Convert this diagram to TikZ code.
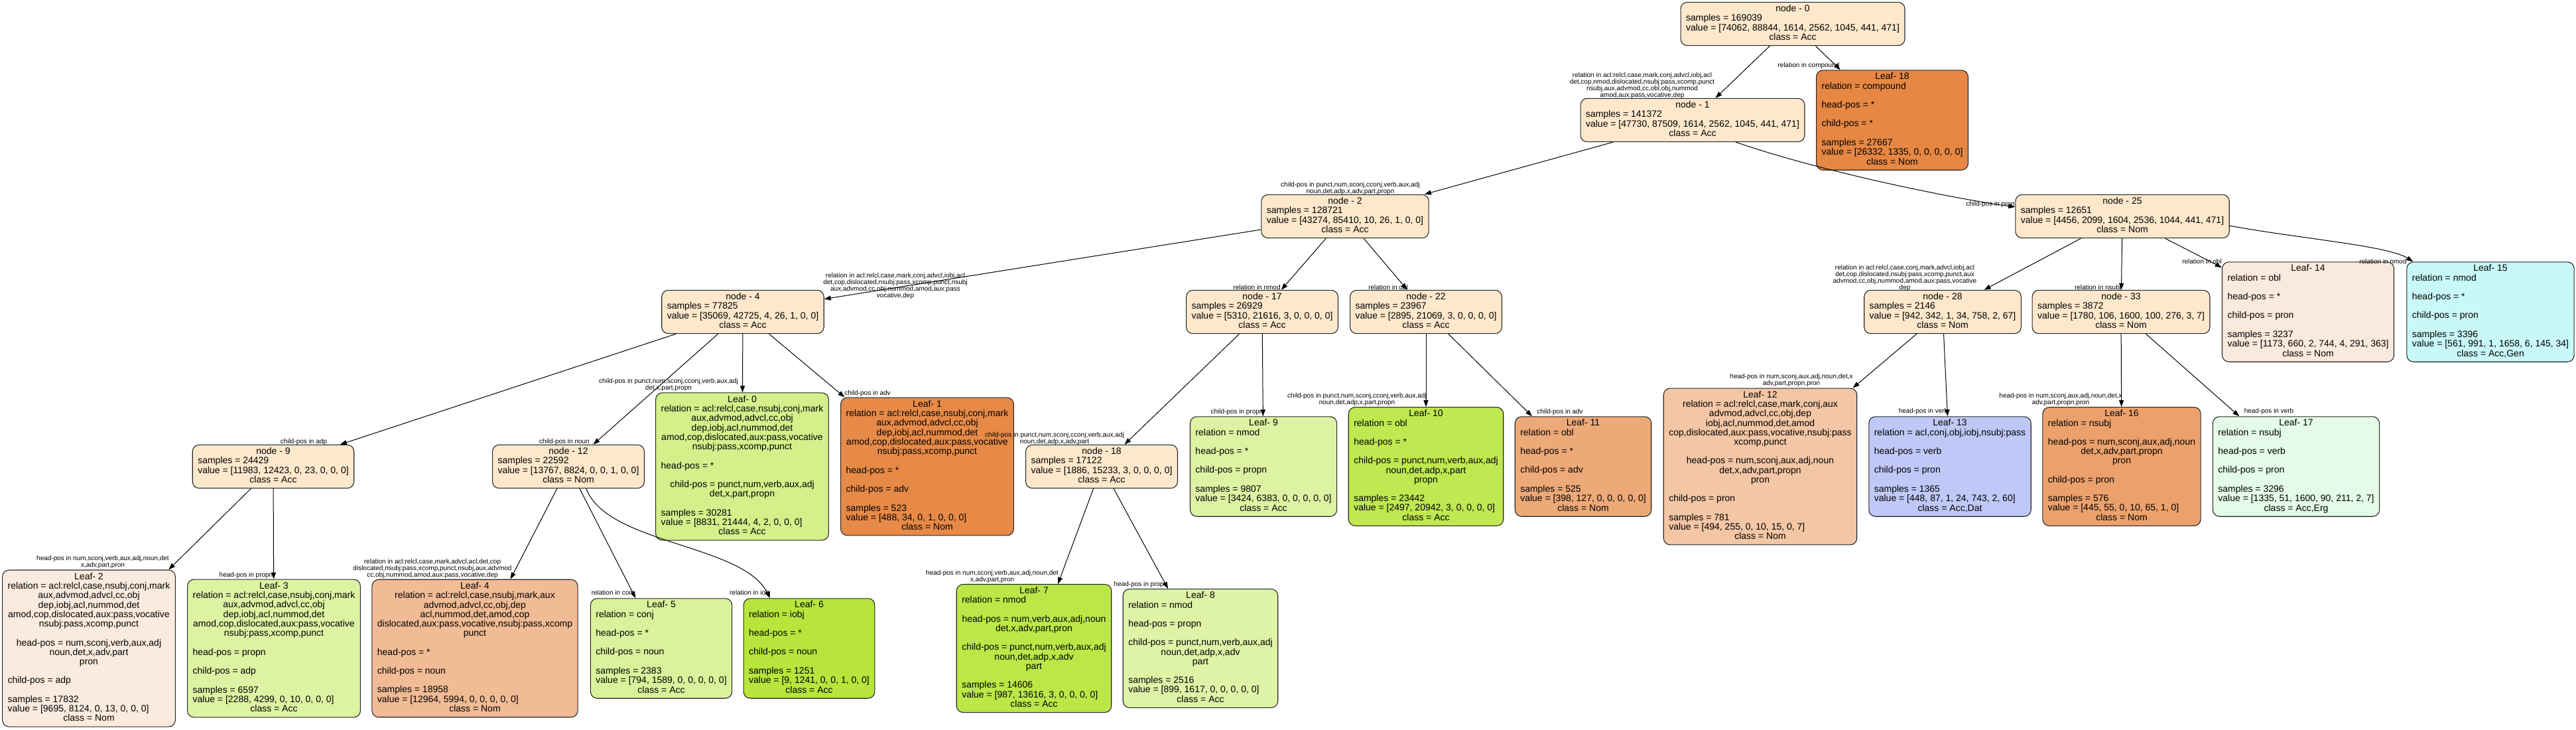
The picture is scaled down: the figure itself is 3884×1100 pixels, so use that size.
\documentclass[tikz,border=0pt]{standalone}
\usepackage{fontspec}
\setmainfont{Liberation Sans}
\usepackage{tikz}
\usetikzlibrary{arrows.meta}
\definecolor{nodefill}{HTML}{FDE8CC}
\definecolor{c0}{RGB}{212,240,139}
\definecolor{c1}{RGB}{231,138,71}
\definecolor{c2}{RGB}{251,235,223}
\definecolor{c3}{RGB}{221,243,163}
\definecolor{c4}{RGB}{241,187,149}
\definecolor{c5}{RGB}{218,242,156}
\definecolor{c6}{RGB}{183,229,59}
\definecolor{c7}{RGB}{187,231,71}
\definecolor{c8}{RGB}{223,243,167}
\definecolor{c9}{RGB}{221,243,163}
\definecolor{c10}{RGB}{191,232,81}
\definecolor{c11}{RGB}{237,169,120}
\definecolor{c12}{RGB}{243,198,165}
\definecolor{c13}{RGB}{191,200,247}
\definecolor{c14}{RGB}{250,233,221}
\definecolor{c15}{RGB}{200,248,247}
\definecolor{c16}{RGB}{236,161,108}
\definecolor{c17}{RGB}{228,251,231}
\definecolor{c18}{RGB}{230,135,67}
% box text: centred lines, \lft{} for a left-justified one
\newcommand\tb[1]{\begin{tabular}{@{}c@{}}#1\end{tabular}}
\newcommand\lft[1]{\multicolumn{1}{@{}l@{}}{#1}}
\newcommand\relfive{relation = acl:relcl,case,nsubj,conj,mark\\aux,advmod,advcl,cc,obj\\dep,iobj,acl,nummod,det\\amod,cop,dislocated,aux:pass,vocative\\nsubj:pass,xcomp,punct}

\begin{document}
\begin{tikzpicture}[x=1pt,y=-1pt,
  dn/.style={draw=black!85,line width=1.1pt,rounded corners=10pt,fill=nodefill,
    inner xsep=8pt,inner ysep=4pt,font=\fontsize{14}{14}\selectfont},
  lf/.style={dn,fill=#1},
  el/.style={align=center,inner sep=0pt,font=\fontsize{10}{10}\selectfont},
  e/.style={draw=black,line width=1pt,-{Triangle[length=10pt,width=7pt]}}
]
\useasboundingbox (0,0) rectangle (3884,1100);

% split nodes
\node[dn] (n0) at (2703,36) {\tb{node - 0\\\lft{samples = 169039}\\\lft{value = [74062, 88844, 1614, 2562, 1045, 441, 471]}\\class = Acc}};
\node[dn] (n1) at (2552,181) {\tb{node - 1\\\lft{samples = 141372}\\\lft{value = [47730, 87509, 1614, 2562, 1045, 441, 471]}\\class = Acc}};
\node[dn] (n2) at (2028,326) {\tb{node - 2\\\lft{samples = 128721}\\\lft{value = [43274, 85410, 10, 26, 1, 0, 0]}\\class = Acc}};
\node[dn] (n25) at (3200,326) {\tb{node - 25\\\lft{samples = 12651}\\\lft{value = [4456, 2099, 1604, 2536, 1044, 441, 471]}\\class = Nom}};
\node[dn] (n4) at (1120,470) {\tb{node - 4\\\lft{samples = 77825}\\\lft{value = [35069, 42725, 4, 26, 1, 0, 0]}\\class = Acc}};
\node[dn] (n17) at (1903,470) {\tb{node - 17\\\lft{samples = 26929}\\\lft{value = [5310, 21616, 3, 0, 0, 0, 0]}\\class = Acc}};
\node[dn] (n22) at (2150,470) {\tb{node - 22\\\lft{samples = 23967}\\\lft{value = [2895, 21069, 3, 0, 0, 0, 0]}\\class = Acc}};
\node[dn] (n28) at (2929,470) {\tb{node - 28\\\lft{samples = 2146}\\\lft{value = [942, 342, 1, 34, 758, 2, 67]}\\class = Nom}};
\node[dn] (n33) at (3198,470) {\tb{node - 33\\\lft{samples = 3872}\\\lft{value = [1780, 106, 1600, 100, 276, 3, 7]}\\class = Nom}};
\node[dn] (n9) at (412,703) {\tb{node - 9\\\lft{samples = 24429}\\\lft{value = [11983, 12423, 0, 23, 0, 0, 0]}\\class = Acc}};
\node[dn] (n12) at (857,703) {\tb{node - 12\\\lft{samples = 22592}\\\lft{value = [13767, 8824, 0, 0, 1, 0, 0]}\\class = Nom}};
\node[dn] (n18) at (1661,703) {\tb{node - 18\\\lft{samples = 17122}\\\lft{value = [1886, 15233, 3, 0, 0, 0, 0]}\\class = Acc}};

% leaves
\node[lf=c18] (l18) at (2853,181) {\tb{Leaf- 18\\\lft{relation = compound}\\ \\\lft{head-pos = *}\\ \\\lft{child-pos = *}\\ \\\lft{samples = 27667}\\\lft{value = [26332, 1335, 0, 0, 0, 0, 0]}\\class = Nom}};
\node[lf=c14] (l14) at (3480,470) {\tb{Leaf- 14\\\lft{relation = obl}\\ \\\lft{head-pos = *}\\ \\\lft{child-pos = pron}\\ \\\lft{samples = 3237}\\\lft{value = [1173, 660, 2, 744, 4, 291, 363]}\\class = Nom}};
\node[lf=c15] (l15) at (3755,470) {\tb{Leaf- 15\\\lft{relation = nmod}\\ \\\lft{head-pos = *}\\ \\\lft{child-pos = pron}\\ \\\lft{samples = 3396}\\\lft{value = [561, 991, 1, 1658, 6, 145, 34]}\\class = Acc,Gen}};
\node[lf=c0] (l0) at (1119,703) {\tb{Leaf- 0\\\relfive\\ \\\lft{head-pos = *}\\ \\child-pos = punct,num,verb,aux,adj\\det,x,part,propn\\ \\\lft{samples = 30281}\\\lft{value = [8831, 21444, 4, 2, 0, 0, 0]}\\class = Acc}};
\node[lf=c1] (l1) at (1398,703) {\tb{Leaf- 1\\\relfive\\ \\\lft{head-pos = *}\\ \\\lft{child-pos = adv}\\ \\\lft{samples = 523}\\\lft{value = [488, 34, 0, 1, 0, 0, 0]}\\class = Nom}};
\node[lf=c9] (l9) at (1905,703) {\tb{Leaf- 9\\\lft{relation = nmod}\\ \\\lft{head-pos = *}\\ \\\lft{child-pos = propn}\\ \\\lft{samples = 9807}\\\lft{value = [3424, 6383, 0, 0, 0, 0, 0]}\\class = Acc}};
\node[lf=c10] (l10) at (2150,703) {\tb{Leaf- 10\\\lft{relation = obl}\\ \\\lft{head-pos = *}\\ \\child-pos = punct,num,verb,aux,adj\\noun,det,adp,x,part\\propn\\ \\\lft{samples = 23442}\\\lft{value = [2497, 20942, 3, 0, 0, 0, 0]}\\class = Acc}};
\node[lf=c11] (l11) at (2387,703) {\tb{Leaf- 11\\\lft{relation = obl}\\ \\\lft{head-pos = *}\\ \\\lft{child-pos = adv}\\ \\\lft{samples = 525}\\\lft{value = [398, 127, 0, 0, 0, 0, 0]}\\class = Nom}};
\node[lf=c12] (l12) at (2654,703) {\tb{Leaf- 12\\relation = acl:relcl,case,mark,conj,aux\\advmod,advcl,cc,obj,dep\\iobj,acl,nummod,det,amod\\cop,dislocated,aux:pass,vocative,nsubj:pass\\xcomp,punct\\ \\head-pos = num,sconj,aux,adj,noun\\det,x,adv,part,propn\\pron\\ \\\lft{child-pos = pron}\\ \\\lft{samples = 781}\\\lft{value = [494, 255, 0, 10, 15, 0, 7]}\\class = Nom}};
\node[lf=c13] (l13) at (2940,703) {\tb{Leaf- 13\\\lft{relation = acl,conj,obj,iobj,nsubj:pass}\\ \\\lft{head-pos = verb}\\ \\\lft{child-pos = pron}\\ \\\lft{samples = 1365}\\\lft{value = [448, 87, 1, 24, 743, 2, 60]}\\class = Acc,Dat}};
\node[lf=c16] (l16) at (3199,703) {\tb{Leaf- 16\\\lft{relation = nsubj}\\ \\head-pos = num,sconj,aux,adj,noun\\det,x,adv,part,propn\\pron\\ \\\lft{child-pos = pron}\\ \\\lft{samples = 576}\\\lft{value = [445, 55, 0, 10, 65, 1, 0]}\\class = Nom}};
\node[lf=c17] (l17) at (3462,703) {\tb{Leaf- 17\\\lft{relation = nsubj}\\ \\\lft{head-pos = verb}\\ \\\lft{child-pos = pron}\\ \\\lft{samples = 3296}\\\lft{value = [1335, 51, 1600, 90, 211, 2, 7]}\\class = Acc,Erg}};
\node[lf=c2] (l2) at (134,977) {\tb{Leaf- 2\\\relfive\\ \\head-pos = num,sconj,verb,aux,adj\\noun,det,x,adv,part\\pron\\ \\\lft{child-pos = adp}\\ \\\lft{samples = 17832}\\\lft{value = [9695, 8124, 0, 13, 0, 0, 0]}\\class = Nom}};
\node[lf=c3] (l3) at (413,977) {\tb{Leaf- 3\\\relfive\\ \\\lft{head-pos = propn}\\ \\\lft{child-pos = adp}\\ \\\lft{samples = 6597}\\\lft{value = [2288, 4299, 0, 10, 0, 0, 0]}\\class = Acc}};
\node[lf=c4] (l4) at (716,977) {\tb{Leaf- 4\\relation = acl:relcl,case,nsubj,mark,aux\\advmod,advcl,cc,obj,dep\\acl,nummod,det,amod,cop\\dislocated,aux:pass,vocative,nsubj:pass,xcomp\\punct\\ \\\lft{head-pos = *}\\ \\\lft{child-pos = noun}\\ \\\lft{samples = 18958}\\\lft{value = [12964, 5994, 0, 0, 0, 0, 0]}\\class = Nom}};
\node[lf=c5] (l5) at (997,977) {\tb{Leaf- 5\\\lft{relation = conj}\\ \\\lft{head-pos = *}\\ \\\lft{child-pos = noun}\\ \\\lft{samples = 2383}\\\lft{value = [794, 1589, 0, 0, 0, 0, 0]}\\class = Acc}};
\node[lf=c6] (l6) at (1220,977) {\tb{Leaf- 6\\\lft{relation = iobj}\\ \\\lft{head-pos = *}\\ \\\lft{child-pos = noun}\\ \\\lft{samples = 1251}\\\lft{value = [9, 1241, 0, 0, 1, 0, 0]}\\class = Acc}};
\node[lf=c7] (l7) at (1559,977) {\tb{Leaf- 7\\\lft{relation = nmod}\\ \\head-pos = num,verb,aux,adj,noun\\det,x,adv,part,pron\\ \\child-pos = punct,num,verb,aux,adj\\noun,det,adp,x,adv\\part\\ \\\lft{samples = 14606}\\\lft{value = [987, 13616, 3, 0, 0, 0, 0]}\\class = Acc}};
\node[lf=c8] (l8) at (1810,977) {\tb{Leaf- 8\\\lft{relation = nmod}\\ \\\lft{head-pos = propn}\\ \\child-pos = punct,num,verb,aux,adj\\noun,det,adp,x,adv\\part\\ \\\lft{samples = 2516}\\\lft{value = [899, 1617, 0, 0, 0, 0, 0]}\\class = Acc}};

% edge labels
\node[el] (t0-1) at (2476,129) {relation in acl:relcl,case,mark,conj,advcl,iobj,acl\\det,cop,nmod,dislocated,nsubj:pass,xcomp,punct\\nsubj,aux,advmod,cc,obl,obj,nummod\\amod,aux:pass,vocative,dep};
\node[el] (t0-18) at (2727,99) {relation in compound};
\node[el] (t1-2) at (2036,284) {child-pos in punct,num,sconj,cconj,verb,aux,adj\\noun,det,adp,x,adv,part,propn};
\node[el] (t1-25) at (3001,308) {child-pos in pron};
\node[el] (t2-4) at (1350,431) {relation in acl:relcl,case,mark,conj,advcl,iobj,acl\\det,cop,dislocated,nsubj:pass,xcomp,punct,nsubj\\aux,advmod,cc,obj,nummod,amod,aux:pass\\vocative,dep};
\node[el] (t2-17) at (1895,433) {relation in nmod};
\node[el] (t2-22) at (2093,433) {relation in obl};
\node[el] (t25-28) at (2872,419) {relation in acl:relcl,case,conj,mark,advcl,iobj,acl\\det,cop,dislocated,nsubj:pass,xcomp,punct,aux\\advmod,cc,obj,nummod,amod,aux:pass,vocative\\dep};
\node[el] (t25-33) at (3163,434) {relation in nsubj};
\node[el] (t25-14) at (3320,394) {relation in obl};
\node[el] (t25-15) at (3593,394) {relation in nmod};
\node[el] (t4-9) at (458,666) {child-pos in adp};
\node[el] (t4-12) at (851,666) {child-pos in noun};
\node[el] (t4-0) at (1008,580) {child-pos in punct,num,sconj,cconj,verb,aux,adj\\det,x,part,propn};
\node[el] (t4-1) at (1308,593) {child-pos in adv};
\node[el] (t9-2) at (155,847) {head-pos in num,sconj,verb,aux,adj,noun,det\\x,adv,part,pron};
\node[el] (t9-3) at (371,867) {head-pos in propn};
\node[el] (t12-4) at (652,857) {relation in acl:relcl,case,mark,advcl,acl,det,cop\\dislocated,nsubj:pass,xcomp,punct,nsubj,aux,advmod\\cc,obj,nummod,amod,aux:pass,vocative,dep};
\node[el] (t12-5) at (924,894) {relation in conj};
\node[el] (t12-6) at (1131,894) {relation in iobj};
\node[el] (t17-18) at (1590,661) {child-pos in punct,num,sconj,cconj,verb,aux,adj\\noun,det,adp,x,adv,part};
\node[el] (t17-9) at (1865,621) {child-pos in propn};
\node[el] (t22-10) at (2046,602) {child-pos in punct,num,sconj,cconj,verb,aux,adj\\noun,det,adp,x,part,propn};
\node[el] (t22-11) at (2352,621) {child-pos in adv};
\node[el] (t18-7) at (1496,869) {head-pos in num,sconj,verb,aux,adj,noun,det\\x,adv,part,pron};
\node[el] (t18-8) at (1720,881) {head-pos in propn};
\node[el] (t28-12) at (2701,573) {head-pos in num,sconj,aux,adj,noun,det,x\\adv,part,propn,pron};
\node[el] (t28-13) at (2900,620) {head-pos in verb};
\node[el] (t33-16) at (3107,602) {head-pos in num,sconj,aux,adj,noun,det,x\\adv,part,propn,pron};
\node[el] (t33-17) at (3421,620) {head-pos in verb};

% edges
\foreach \a/\b in {n0/n1,n0/l18,n1/n2,n2/n4,n2/n17,n2/n22,n25/n28,n25/n33,n25/l14,
  n4/n9,n4/n12,n4/l0,n4/l1,n17/n18,n17/l9,n22/l10,n22/l11,n28/l12,n28/l13,
  n33/l16,n33/l17,n9/l2,n9/l3,n12/l4,n12/l5,n18/l7,n18/l8}
  \draw[e] (\a) -- (\b);
\draw[e] (n1.-27) .. controls (2750,260) and (2950,300) .. (n25.175);
\draw[e] (n25.-5) .. controls (3470,360) and (3600,370) .. (l15.147);
\draw[e] (n12.-51) .. controls (915,820) and (1120,820) .. (l6.128);
\end{tikzpicture}
\end{document}
